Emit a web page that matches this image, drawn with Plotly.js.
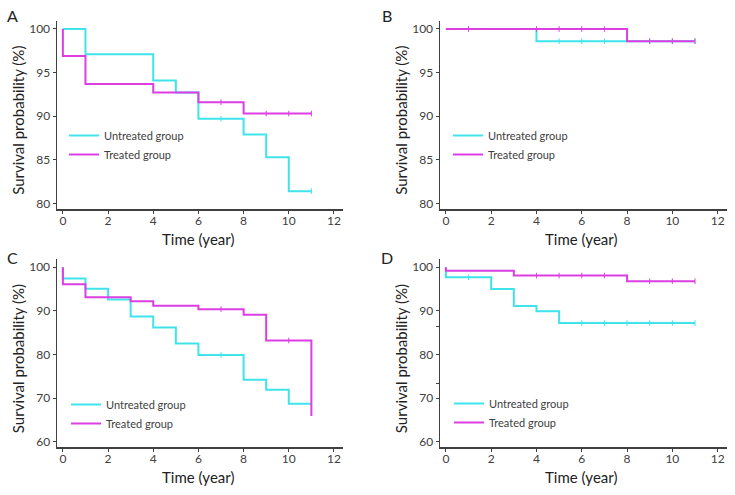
<!DOCTYPE html>
<html>
<head>
<meta charset="utf-8">
<script src="https://cdn.plot.ly/plotly-3.0.1.min.js"></script>
<style>html,body{margin:0;padding:0;background:#fff;}#chart{width:735px;height:495px;}</style>
</head>
<body>
<div id="chart"></div>
<script>
// ---- Data ----
var seriesNames = ['Untreated group', 'Treated group'];
var panelLabels = ['A', 'B', 'C', 'D'];
var xTickVals = [0, 2, 4, 6, 8, 10, 12];
var yTicksAB = [80, 85, 90, 95, 100];
var yTickTextAB = ['80', '85', '90', '95', '100'];
var yTicksC = [60, 70, 80, 90, 100];
var yTickTextC = ['60', '70', '80', '90', '100'];
var yTicksD = [60, 70, 73.4, 80, 86.5, 90, 100];
var yTickTextD = ['60', '70', '', '80', '', '90', '100'];

// Panel A
var aUntreatedT = [0, 1, 4, 5, 6, 8, 9, 10, 11];
var aUntreatedS = [100, 97.1, 94.1, 92.7, 89.7, 87.9, 85.3, 81.4, 81.4];
var aTreatedT = [0, 0, 1, 4, 6, 8, 11];
var aTreatedS = [100, 96.9, 93.7, 92.7, 91.6, 90.3, 90.3];
var aUntreatedCens = [7, 11];
var aTreatedCens = [7, 9, 10, 11];

// Panel B
var bUntreatedT = [0, 4, 11];
var bUntreatedS = [100, 98.6, 98.6];
var bTreatedT = [0, 8, 11];
var bTreatedS = [100, 98.6, 98.6];
var bUntreatedCens = [5, 6, 7, 9, 10, 11];
var bTreatedCens = [1, 4, 5, 6, 7, 9, 10, 11];

// Panel C
var cUntreatedT = [0, 0, 1, 2, 3, 4, 5, 6, 8, 9, 10, 11];
var cUntreatedS = [100, 97.4, 95.1, 92.6, 88.7, 86.2, 82.5, 79.9, 74.2, 71.9, 68.7, 68.7];
var cTreatedT = [0, 0, 1, 3, 4, 6, 8, 9, 11, 11];
var cTreatedS = [100, 96.1, 93.1, 92.2, 91.2, 90.4, 89.1, 83.2, 83.2, 65.9];
var cUntreatedCens = [7];
var cTreatedCens = [7, 10];

// Panel D
var dUntreatedT = [0, 0, 2, 3, 4, 5, 11];
var dUntreatedS = [100, 97.7, 95.0, 91.1, 89.9, 87.2, 87.2];
var dTreatedT = [0, 0, 3, 8, 11];
var dTreatedS = [100, 99.2, 98.1, 96.8, 96.8];
var dUntreatedCens = [1, 6, 7, 8, 9, 10, 11];
var dTreatedCens = [4, 5, 6, 7, 9, 10, 11];

// ---- Styling ----
var CYAN = '#3ee4ea';
var MAGENTA = '#dc3ee2';
var AX = '#404040';
var FONT = 'Lato, "Open Sans", sans-serif';

function stepAt(ts, ss, t) {
  var v = ss[0];
  for (var i = 0; i < ts.length; i++) { if (ts[i] <= t) v = ss[i]; }
  return v;
}

var panels = [
  {ut: aUntreatedT, us: aUntreatedS, tt: aTreatedT, ts: aTreatedS, uc: aUntreatedCens, tc: aTreatedCens, yt: yTicksAB, ytt: yTickTextAB},
  {ut: bUntreatedT, us: bUntreatedS, tt: bTreatedT, ts: bTreatedS, uc: bUntreatedCens, tc: bTreatedCens, yt: yTicksAB, ytt: yTickTextAB},
  {ut: cUntreatedT, us: cUntreatedS, tt: cTreatedT, ts: cTreatedS, uc: cUntreatedCens, tc: cTreatedCens, yt: yTicksC, ytt: yTickTextC},
  {ut: dUntreatedT, us: dUntreatedS, tt: dTreatedT, ts: dTreatedS, uc: dUntreatedCens, tc: dTreatedCens, yt: yTicksD, ytt: yTickTextD}
];

var W = 735, H = 495;
// pixel geometry of each panel: [left, right, top, bottom]
var geom = [
  [57, 343, 20.7, 209],
  [440, 726.7, 20.7, 209],
  [57, 343, 259, 447.3],
  [440, 726.7, 259, 447.3]
];
var yRanges = [[79.35, 100.95], [79.35, 100.95], [58.7, 101.9], [58.7, 101.9]];
var legendPos = [[64, 121], [448, 121], [66, 390], [449, 389]];

var traces = [];
var layout = {
  width: W, height: H,
  margin: {l: 0, r: 0, t: 0, b: 0},
  paper_bgcolor: '#ffffff', plot_bgcolor: '#ffffff',
  showlegend: true,
  annotations: []
};

panels.forEach(function (p, i) {
  var n = i + 1;
  var xa = 'x' + (n === 1 ? '' : n), ya = 'y' + (n === 1 ? '' : n);
  var leg = n === 1 ? 'legend' : 'legend' + n;
  traces.push({x: p.ut, y: p.us, xaxis: xa, yaxis: ya, type: 'scatter', mode: 'lines',
    line: {shape: 'hv', color: CYAN, width: 2}, name: seriesNames[0], legend: leg});
  traces.push({x: p.tt, y: p.ts, xaxis: xa, yaxis: ya, type: 'scatter', mode: 'lines',
    line: {shape: 'hv', color: MAGENTA, width: 2}, name: seriesNames[1], legend: leg});
  traces.push({x: p.uc, y: p.uc.map(function (t) { return stepAt(p.ut, p.us, t); }),
    xaxis: xa, yaxis: ya, type: 'scatter', mode: 'markers', showlegend: false, hoverinfo: 'skip',
    marker: {symbol: 'line-ns', size: 4, line: {color: CYAN, width: 1}}});
  traces.push({x: p.tc, y: p.tc.map(function (t) { return stepAt(p.tt, p.ts, t); }),
    xaxis: xa, yaxis: ya, type: 'scatter', mode: 'markers', showlegend: false, hoverinfo: 'skip',
    marker: {symbol: 'line-ns', size: 4, line: {color: MAGENTA, width: 1}}});

  var g = geom[i];
  layout['xaxis' + (n === 1 ? '' : n)] = {
    domain: [g[0] / W, g[1] / W], anchor: ya,
    range: [-0.26, 12.4], tickvals: xTickVals, ticks: 'outside', ticklen: 3, tickwidth: 1,
    tickcolor: AX, showline: true, linecolor: AX, linewidth: 1.5, showgrid: false, zeroline: false,
    tickfont: {family: FONT, size: 12, color: AX}, ticklabelstandoff: -3, fixedrange: true
  };
  layout['yaxis' + (n === 1 ? '' : n)] = {
    domain: [1 - g[3] / H, 1 - g[2] / H], anchor: xa,
    range: yRanges[i], tickvals: p.yt, ticktext: p.ytt, ticks: 'outside', ticklen: 3, tickwidth: 1,
    tickcolor: AX, showline: true, linecolor: AX, linewidth: 1.5, showgrid: false, zeroline: false,
    tickfont: {family: FONT, size: 12, color: AX}, fixedrange: true
  };
  layout[leg] = {
    x: legendPos[i][0] / W, y: 1 - legendPos[i][1] / H, xanchor: 'left', yanchor: 'top',
    bgcolor: 'rgba(0,0,0,0)', font: {family: FONT, size: 11, color: AX},
    itemwidth: 30, tracegroupgap: 0
  };
  // panel letter
  layout.annotations.push({text: panelLabels[i], xref: 'paper', yref: 'paper',
    x: (i % 2 === 0 ? 12 : 387) / W, y: 1 - (i < 2 ? 15.5 : 257) / H,
    showarrow: false, font: {family: FONT, size: 16, color: '#222'}, xanchor: 'center', yanchor: 'middle'});
  // x title
  layout.annotations.push({text: 'Time (year)', xref: 'paper', yref: 'paper',
    x: ((g[0] + g[1]) / 2 - 2) / W, y: 1 - (g[3] + 29.5) / H,
    showarrow: false, font: {family: FONT, size: 15, color: '#222'}, xanchor: 'center', yanchor: 'middle'});
  // y title
  layout.annotations.push({text: 'Survival probability (%)', xref: 'paper', yref: 'paper',
    x: (g[0] - 39) / W, y: 1 - ((g[2] + g[3]) / 2 + 6) / H, textangle: -90,
    showarrow: false, font: {family: FONT, size: 15, color: '#222'}, xanchor: 'center', yanchor: 'middle'});
});

Plotly.newPlot('chart', traces, layout, {staticPlot: true, displayModeBar: false});
</script>
</body>
</html>
